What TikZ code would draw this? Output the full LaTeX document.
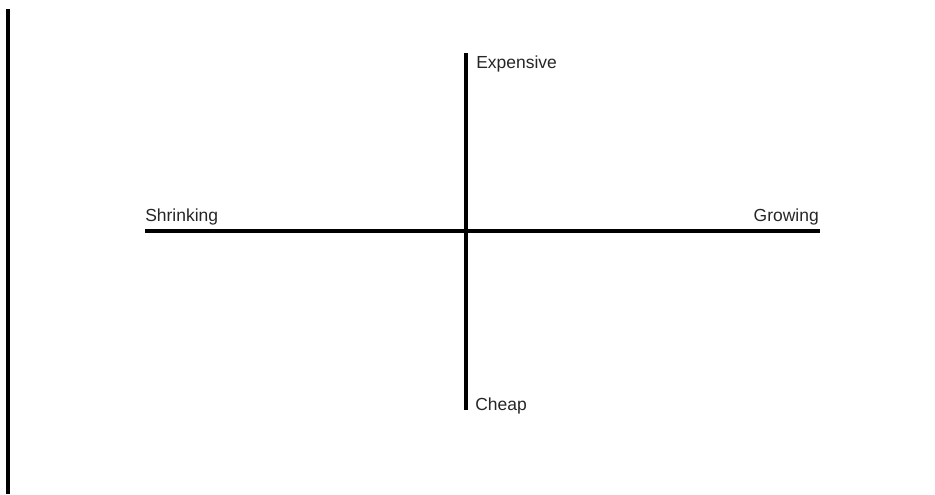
\documentclass[tikz,border=0pt]{standalone}
\usepackage{fontspec}
\setmainfont{Liberation Sans}
\usetikzlibrary{positioning}

\tikzset{
  axis/.style={line width=3pt, black},
  axlabel/.style={font=\fontsize{13.1}{15}\selectfont, text=black!85, inner sep=0pt}
}

\begin{document}
\begin{tikzpicture}[x=0.75pt, y=-0.75pt]

% Frame of the page
\useasboundingbox (0,0) rectangle (935,494);

% Left margin rule
\coordinate (ruletop) at (8,9);
\coordinate (rulebot) at (8,494);
\draw[line width=3.4pt] (ruletop) -- (rulebot);

% ================= AXES =================
\coordinate (west) at (145,231);
\coordinate (east) at (820,231);
\coordinate (north) at (466,53);
\coordinate (south) at (466,410);

\draw[axis] (west) -- (east);
\draw[axis] (north) -- (south);

% Labels
\node[axlabel, anchor=base west] (shrink) at (145,221) {Shrinking};
\node[axlabel, anchor=base east] (grow) at (819,221) {Growing};
\node[axlabel, anchor=base west] (exp) at (476,68) {Expensive};
\node[axlabel, anchor=base west] (cheap) at (475,410) {Cheap};

\end{tikzpicture}
\end{document}
